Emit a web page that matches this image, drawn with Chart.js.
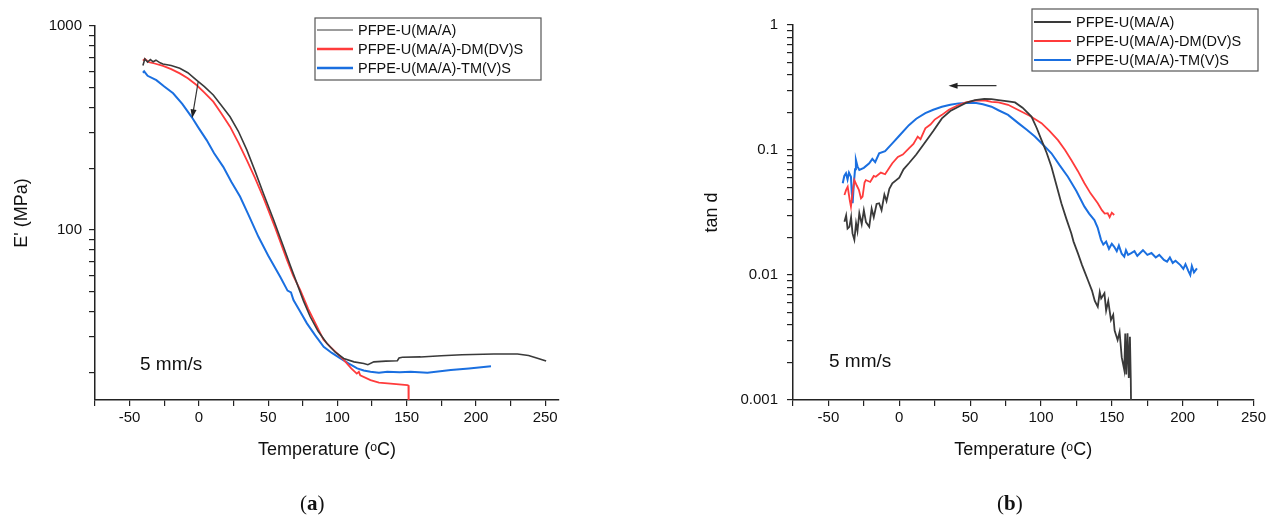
<!DOCTYPE html>
<html>
<head>
<meta charset="utf-8">
<script src="https://cdn.jsdelivr.net/npm/chart.js@4.4.1/dist/chart.umd.min.js"></script>
<style>
body { margin:0; background:#fff; width:1269px; height:519px; overflow:hidden; position:relative; }
canvas { position:absolute; top:0; }
#chartA { left:0; }
#chartB { left:640px; }
.cap { position:absolute; top:491px; font-family:"Liberation Serif","Times New Roman",serif; font-size:21px; color:#111; }
</style>
</head>
<body>
<canvas id="chartA" width="600" height="519"></canvas>
<canvas id="chartB" width="629" height="519"></canvas>
<div class="cap" style="left:300px">(<b>a</b>)</div>
<div class="cap" style="left:997px">(<b>b</b>)</div>
<script>
// series names and colours
var names = ['PFPE-U(MA/A)', 'PFPE-U(MA/A)-DM(DV)S', 'PFPE-U(MA/A)-TM(V)S'];
var colors = ['#3a3a3a', '#ff3b3b', '#1a6fe0'];

// shared x ticks (degC)
var xTicks = [-75, -50, -25, 0, 25, 50, 75, 100, 125, 150, 175, 200, 225, 250];

// (a) storage modulus E' (MPa)
var eTicks = [20, 30, 40, 50, 60, 70, 80, 90, 100, 200, 300, 400, 500, 600, 700, 800, 900, 1000];
var eLabels = [100, 1000];

var eBlackT = [-40.4, -39, -37, -35, -33, -31, -28, -26, -20, -13.8, -8, -1.7, 4, 10.4, 16, 22.5, 28.5, 34.6, 40.5, 46.6, 54, 61.1, 66, 70.8, 75.5, 80.4, 86, 92.5, 98.5, 104.6, 112, 119.1, 122, 126.3, 135, 143.3, 144.5, 146.9, 160, 175, 190, 213, 230, 238, 245, 250.7];
var eBlackV = [640, 690, 665, 685, 668, 680, 660, 651, 640, 621, 590, 543, 505, 459, 410, 359, 305, 247, 195, 151, 112, 82.8, 67, 54.8, 45, 37.6, 32, 27.8, 25.2, 23.5, 22.6, 22.2, 21.9, 22.6, 22.8, 22.9, 23.6, 23.8, 23.9, 24.2, 24.5, 24.7, 24.7, 24.3, 23.5, 22.8];

var eRedT = [-40.4, -39, -36, -32, -25.9, -20, -13.8, -8, -1.7, 4, 10.4, 16, 22.5, 28.5, 34.6, 40.5, 46.6, 55, 63.6, 68, 73.2, 79, 85.3, 90, 94.9, 100, 104.6, 110, 114, 115.5, 116.5, 123.9, 130, 138.4, 150.5, 151.3, 151.5];
var eRedV = [676, 690, 665, 655, 637, 615, 586, 555, 514, 472, 426, 375, 321, 268, 220, 180, 144, 103, 71.3, 60, 50.8, 41, 33.6, 29, 26.8, 24.8, 23.1, 21, 19.8, 20.2, 19.4, 18.4, 17.9, 17.7, 17.4, 17.3, 10];

var eBlueT = [-40.4, -39.5, -37, -30.7, -25, -18.6, -12, -5.3, 0, 5.6, 11, 17.6, 23.5, 29.7, 36, 43, 50, 58.7, 64, 66.5, 68.3, 73, 78, 84, 90.1, 96, 102.2, 108, 114.3, 119, 123.9, 130, 136, 145, 152.9, 165, 181.9, 195, 210.9];
var eBlueV = [590, 600, 570, 543, 505, 468, 415, 359, 315, 276, 238, 204, 172, 146, 118, 92.7, 75, 59, 50.5, 49.5, 45.4, 40, 34.9, 30.5, 26.8, 25, 23.5, 22.2, 21.0, 20.5, 20.2, 20.0, 20.2, 20.1, 20.2, 20.0, 20.6, 21.0, 21.5];

// (b) loss factor tan d
var dTicks = [0.001, 0.002, 0.003, 0.004, 0.005, 0.006, 0.007, 0.008, 0.009, 0.01, 0.02, 0.03, 0.04, 0.05, 0.06, 0.07, 0.08, 0.09, 0.1, 0.2, 0.3, 0.4, 0.5, 0.6, 0.7, 0.8, 0.9, 1];
var dLabels = [0.001, 0.01, 0.1, 1];

var dBlackT = [-38.7, -37.5, -36.5, -35.2, -34, -33, -31.7, -30.5, -29.5, -28.2, -26.5, -25, -23.5, -21.2, -19.5, -18, -16, -14.2, -12.5, -10.5, -9, -7, -4.9, 0, 3, 6.8, 12, 18.4, 24, 30.1, 36, 41.8, 47, 53.4, 60, 65.1, 70, 76.8, 81.7, 87, 93.3, 97, 100.4, 104, 107.4, 111, 114.4, 118, 121.4, 123, 126.1, 129, 131, 133.1, 136, 138, 140.1, 141.5, 142.5, 144.8, 146, 147.5, 149.4, 151, 152, 154.1, 155.5, 157, 158.8, 159.5, 160.2, 161.1, 162, 162.8, 163.4, 163.6];
var dBlackV = [0.0267, 0.030, 0.0235, 0.0243, 0.029, 0.0215, 0.0191, 0.026, 0.0225, 0.0312, 0.0255, 0.033, 0.0265, 0.0243, 0.034, 0.029, 0.037, 0.0375, 0.033, 0.044, 0.039, 0.049, 0.0542, 0.06, 0.07, 0.0783, 0.092, 0.116, 0.142, 0.179, 0.205, 0.222, 0.238, 0.251, 0.256, 0.255, 0.251, 0.245, 0.240, 0.218, 0.185, 0.15, 0.120, 0.095, 0.0735, 0.052, 0.0375, 0.028, 0.0216, 0.0185, 0.0149, 0.012, 0.0105, 0.00912, 0.0075, 0.0062, 0.00557, 0.0073, 0.0065, 0.00714, 0.0052, 0.0062, 0.00437, 0.0048, 0.0036, 0.00302, 0.0035, 0.0022, 0.00174, 0.0034, 0.0016, 0.00342, 0.0015, 0.0032, 0.00145, 0.0009];

var dRedT = [-38.7, -37.5, -36.4, -35, -34.1, -33, -31.7, -30, -28.5, -27, -25.9, -24.5, -23.6, -20.5, -18, -16.6, -13, -10, -7, -4.9, -1, 2.5, 6.8, 10, 13, 15, 18.4, 22, 25, 30.1, 35, 41.8, 47, 53.4, 60, 65.1, 70, 76.8, 84, 92, 100.4, 106, 112, 117, 121.4, 126, 130.7, 135, 140.1, 143, 145, 147.1, 148.5, 150, 151.7];
var dRedV = [0.0437, 0.048, 0.0508, 0.040, 0.0352, 0.045, 0.0575, 0.052, 0.048, 0.041, 0.0423, 0.055, 0.0575, 0.0555, 0.062, 0.0611, 0.066, 0.064, 0.072, 0.0783, 0.088, 0.092, 0.103, 0.112, 0.128, 0.122, 0.149, 0.16, 0.175, 0.191, 0.21, 0.229, 0.24, 0.248, 0.25, 0.243, 0.24, 0.23, 0.209, 0.188, 0.164, 0.142, 0.120, 0.1, 0.0832, 0.068, 0.0542, 0.045, 0.0375, 0.033, 0.031, 0.0312, 0.029, 0.0315, 0.0302];

var dBlueT = [-39.9, -38.8, -37.6, -36.5, -35.5, -34.1, -33.5, -32.9, -32, -31.2, -30.6, -29.5, -28.2, -25, -21.2, -19, -17, -14.2, -10, -4.9, 0, 6.8, 12, 18.4, 24, 30.1, 36, 41.8, 47.5, 53.4, 59, 65.1, 70, 76.8, 84, 90, 95.7, 101.5, 107.4, 113, 119, 125, 130.7, 134, 137.7, 140, 142.4, 144, 146, 148, 150, 151.7, 153.5, 155, 157, 158.8, 160, 161.5, 163.4, 166, 168, 170, 172, 175.1, 178, 181, 183.5, 186.8, 189, 191, 193, 195, 198.4, 200.5, 202, 204, 205.4, 206.5, 208, 210.1];
var dBlueV = [0.0542, 0.062, 0.0651, 0.058, 0.066, 0.0611, 0.045, 0.0375, 0.055, 0.07, 0.0832, 0.074, 0.0692, 0.072, 0.0783, 0.085, 0.08, 0.0941, 0.098, 0.113, 0.13, 0.158, 0.178, 0.197, 0.21, 0.222, 0.23, 0.236, 0.238, 0.239, 0.232, 0.222, 0.208, 0.191, 0.164, 0.145, 0.128, 0.11, 0.0941, 0.076, 0.0611, 0.047, 0.0352, 0.031, 0.0275, 0.024, 0.0191, 0.0175, 0.0185, 0.0162, 0.0178, 0.0168, 0.0155, 0.0172, 0.0148, 0.014, 0.0158, 0.0145, 0.0149, 0.0155, 0.0142, 0.015, 0.0158, 0.0145, 0.015, 0.0138, 0.0145, 0.0132, 0.0128, 0.0138, 0.0125, 0.013, 0.012, 0.0112, 0.0122, 0.0108, 0.010, 0.0118, 0.0105, 0.0113];

// arrows: [x, y] start and tip in data units
var arrowA = [[-0.5, 533], [-4.9, 353]];
var arrowB = [[68.6, 0.327], [34.8, 0.327]];

Chart.defaults.font.family = '"Liberation Sans", Arial, sans-serif';
Chart.defaults.color = '#111';

function pts(t, v){
    var out = [];
    for (var i = 0; i < t.length; i++) out.push({x: t[i], y: v[i]});
    return out;
}

var extras = {
    id: 'extras',
    afterDatasetsDraw: function(chart, args, o){
        var ctx = chart.ctx;
        var xs = chart.scales.x, ys = chart.scales.y;
        ctx.save();
        // arrow
        var a = o.arrow;
        var x1 = xs.getPixelForValue(a[0][0]), y1 = ys.getPixelForValue(a[0][1]);
        var x2 = xs.getPixelForValue(a[1][0]), y2 = ys.getPixelForValue(a[1][1]);
        var ang = Math.atan2(y2 - y1, x2 - x1);
        ctx.strokeStyle = '#333'; ctx.fillStyle = '#222'; ctx.lineWidth = 1.2;
        ctx.beginPath(); ctx.moveTo(x1, y1);
        ctx.lineTo(x2 - 6 * Math.cos(ang), y2 - 6 * Math.sin(ang)); ctx.stroke();
        ctx.beginPath(); ctx.moveTo(x2, y2);
        ctx.lineTo(x2 - 9 * Math.cos(ang) + 3 * Math.sin(ang), y2 - 9 * Math.sin(ang) - 3 * Math.cos(ang));
        ctx.lineTo(x2 - 9 * Math.cos(ang) - 3 * Math.sin(ang), y2 - 9 * Math.sin(ang) + 3 * Math.cos(ang));
        ctx.closePath(); ctx.fill();
        // note
        ctx.font = '19px "Liberation Sans", Arial, sans-serif';
        ctx.fillStyle = '#111'; ctx.textBaseline = 'middle'; ctx.textAlign = 'left';
        ctx.fillText(o.note.text, o.note.x, o.note.y);
        // legend box
        var L = o.legend;
        ctx.fillStyle = '#fff';
        ctx.fillRect(L.x, L.y, L.w, L.h);
        ctx.strokeStyle = '#555'; ctx.lineWidth = 1.2;
        ctx.strokeRect(L.x, L.y, L.w, L.h);
        ctx.font = '14.5px "Liberation Sans", Arial, sans-serif';
        chart.data.datasets.forEach(function(ds, i){
            var ry = L.y + L.first + i * L.gap;
            ctx.strokeStyle = ds.borderColor; ctx.lineWidth = L.widths[i];
            ctx.beginPath(); ctx.moveTo(L.x + 2, ry); ctx.lineTo(L.x + L.line, ry); ctx.stroke();
            ctx.fillStyle = '#111';
            ctx.fillText(ds.label, L.x + L.line + 5, ry + 1);
        });
        ctx.restore();
    }
};

function makeChart(id, series, widths, yTicks, yLabels, ymin, ymax, xmax, yTitle, yAxisW, yTitlePad, yTickPad, pad, plug){
    var datasets = series.map(function(s, i){
        return {label: names[i], data: s, borderColor: colors[i], borderWidth: widths[i],
                pointRadius: 0, fill: false, tension: 0};
    });
    return new Chart(document.getElementById(id).getContext('2d'), {
        type: 'line',
        data: {datasets: datasets},
        plugins: [extras],
        options: {
            responsive: false,
            animation: false,
            layout: {padding: pad},
            plugins: {legend: {display: false}, tooltip: {enabled: false}, extras: plug},
            scales: {
                x: {
                    type: 'linear', min: -75, max: xmax,
                    afterBuildTicks: function(s){ s.ticks = xTicks.map(function(v){ return {value: v}; }); },
                    afterFit: function(s){ s.height = 119; },
                    grid: {drawOnChartArea: false, color: '#222', tickLength: 6, lineWidth: 1.2},
                    border: {color: '#222', width: 1.5},
                    ticks: {font: {size: 15}, maxRotation: 0, autoSkip: false, padding: 3,
                            callback: function(v){ return v % 50 === 0 ? String(v) : ''; }},
                    title: {display: true, text: 'Temperature (ᵒC)', font: {size: 18}, padding: {top: 0, bottom: 58}}
                },
                y: {
                    type: 'logarithmic', min: ymin, max: ymax,
                    afterBuildTicks: function(s){ s.ticks = yTicks.map(function(v){ return {value: v}; }); },
                    afterFit: function(s){ s.width = yAxisW; },
                    grid: {drawOnChartArea: false, color: '#222', tickLength: 6, lineWidth: 1.2},
                    border: {color: '#222', width: 1.5},
                    ticks: {font: {size: 15}, padding: yTickPad, autoSkip: false,
                            callback: function(v){ return yLabels.indexOf(v) >= 0 ? String(v) : ''; }},
                    title: {display: true, text: yTitle, font: {size: 18}, padding: {top: yTitlePad, bottom: 0}}
                }
            }
        }
    });
}

makeChart('chartA',
    [pts(eBlackT, eBlackV), pts(eRedT, eRedV), pts(eBlueT, eBlueV)],
    [1.6, 1.8, 2],
    eTicks, eLabels, 14.7, 1000, 260, "E' (MPa)", 95, 11, 7,
    {left: 0, top: 26, right: 41, bottom: 0},
    {arrow: arrowA, note: {text: '5 mm/s', x: 140, y: 365},
     legend: {x: 315, y: 18, w: 226, h: 62, first: 12, gap: 19, line: 38, widths: [1.2, 2.5, 2.5]}});

makeChart('chartB',
    [pts(dBlackT, dBlackV), pts(dRedT, dRedV), pts(dBlueT, dBlueV)],
    [1.8, 1.8, 2],
    dTicks, dLabels, 0.001, 1, 250, 'tan d', 153, 61, 9,
    {left: 0, top: 25, right: 12, bottom: 0},
    {arrow: arrowB, note: {text: '5 mm/s', x: 189, y: 362},
     legend: {x: 392, y: 9, w: 226, h: 62, first: 13, gap: 19, line: 39, widths: [2, 2, 2]}});
</script>
</body>
</html>
